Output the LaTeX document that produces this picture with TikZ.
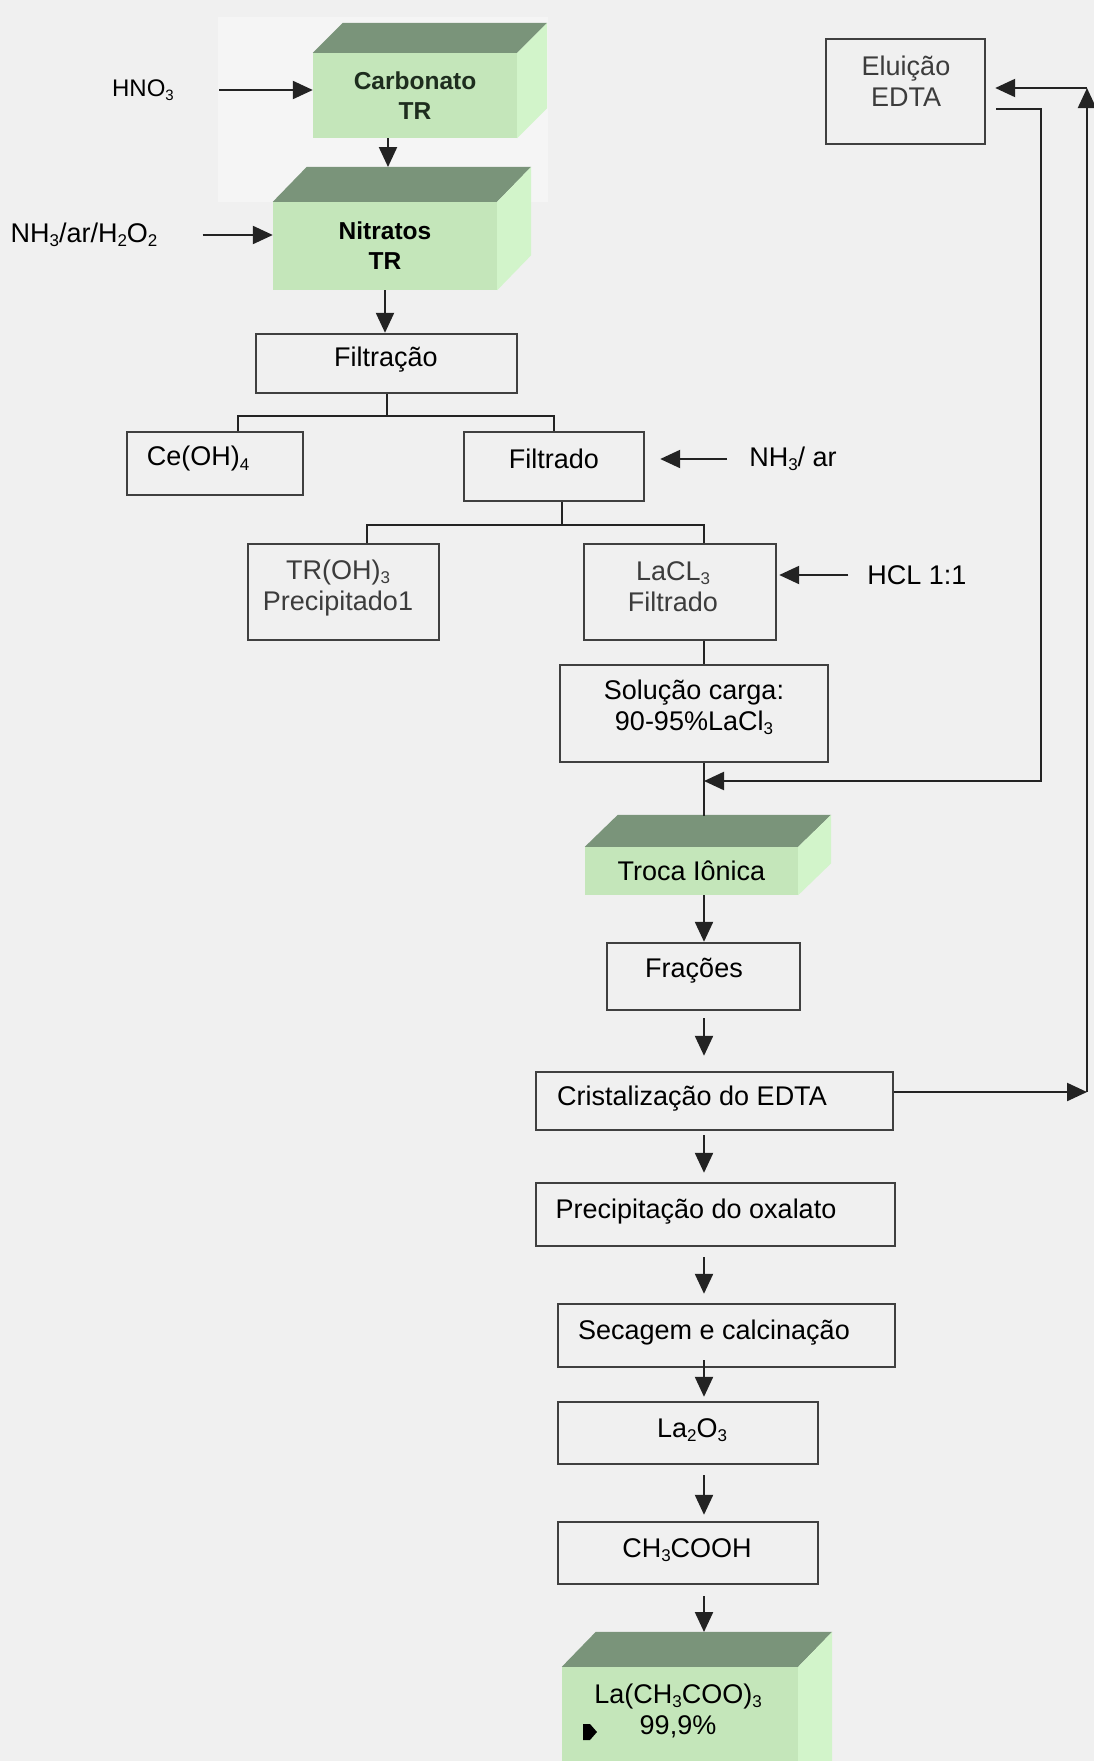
\documentclass[tikz,border=0pt]{standalone}
\usepackage{fontspec}
\setmainfont{Liberation Sans}
\usetikzlibrary{arrows.meta,calc}
\definecolor{bgc}{RGB}{240,240,240}
\definecolor{hilite}{RGB}{245,245,245}
\definecolor{frontc}{RGB}{196,230,186}
\definecolor{topc}{RGB}{122,148,122}
\definecolor{sidec}{RGB}{210,244,202}
\definecolor{linec}{RGB}{35,35,35}
\definecolor{boxc}{RGB}{64,64,64}
\definecolor{graytxt}{RGB}{60,60,60}
\definecolor{carbtxt}{RGB}{30,45,30}
\newcommand\fA{\fontsize{27}{31}\selectfont}
\newcommand\fB{\fontsize{24}{28}\selectfont}
\newcommand\fC{\fontsize{24.5}{30}\selectfont}
\newcommand\sbs[2][17]{\raisebox{-0.15em}{\fontsize{#1}{#1}\selectfont #2}}
\newcommand\cubefaces[3]{%
  \fill[topc] (#1.north west) -- ++(#2,-#3) -- ($(#1.north east)+(#2,-#3)$) -- (#1.north east) -- cycle;
  \fill[sidec] (#1.north east) -- ++(#2,-#3) -- ($(#1.south east)+(#2,-#3)$) -- (#1.south east) -- cycle;}
\begin{document}
\begin{tikzpicture}[x=1pt,y=-1pt,
  ln/.style={draw=linec, line width=2.2pt},
  arr/.style={ln, -{Triangle[length=20pt,width=18pt]}},
  box/.style={draw=boxc, line width=2.4pt, rectangle, inner sep=0pt},
  front/.style={fill=frontc, inner sep=0pt, rectangle, align=center, font=\fA},
  txt/.style={inner sep=0pt, align=center, font=\fA, text=black},
  gtxt/.style={txt, text=graytxt}]
% background
\fill[bgc] (0,0) rectangle (1094,1761);
\useasboundingbox (0,0) rectangle (1094,1761);
\fill[hilite] (218,17) rectangle (548,202);

% 3D blocks
\node[front, minimum width=204pt, minimum height=85pt, font=\fC\bfseries, text=carbtxt] (carb) at (415,95.5) {Carbonato\\TR};
\cubefaces{carb}{30}{30}
\node[front, minimum width=224pt, minimum height=88pt, font=\fC\bfseries] (nit) at (385,246) {Nitratos\\TR};
\cubefaces{nit}{34}{35}
\node[front, minimum width=213pt, minimum height=48pt] (troca) at (691.5,871) {Troca Iônica};
\cubefaces{troca}{33}{32}
\node[front, minimum width=236pt, minimum height=130pt] (la) at (680,1732) {};
\cubefaces{la}{34}{35}
\node[txt] (lat) at (678,1711) {La(CH\sbs{3}COO)\sbs{3}\\99,9\%};
\fill[black] (583,1724) -- (590,1724) -- (597,1732) -- (590,1740) -- (583,1740) -- cycle;

% boxes
\node[box, minimum width=159pt, minimum height=105pt] (elu) at (905.5,91.5) {};
\node[gtxt] (elut) at (906,81) {Eluição\\EDTA};
\node[box, minimum width=261pt, minimum height=59pt] (filt) at (386.5,363.5) {};
\node[txt] (filtt) at (386,360) {Filtração};
\node[box, minimum width=176pt, minimum height=63pt] (ce) at (215,463.5) {};
\node[txt] (cet) at (198,459) {Ce(OH)\sbs{4}};
\node[box, minimum width=180pt, minimum height=69pt] (fdo) at (554,466.5) {};
\node[txt] (fdot) at (554,459) {Filtrado};
\node[box, minimum width=191pt, minimum height=96pt] (tr) at (343.5,592) {};
\node[gtxt] (trt) at (338,588) {TR(OH)\sbs{3}\\Precipitado1};
\node[box, minimum width=192pt, minimum height=96pt] (lacl) at (680,592) {};
\node[gtxt] (laclt) at (673,587) {LaCL\sbs{3}\\Filtrado};
\node[box, minimum width=268pt, minimum height=97pt] (sol) at (694,713.5) {};
\node[txt] (solt) at (694,707) {Solução carga:\\90-95\%LaCl\sbs{3}};
\node[box, minimum width=193pt, minimum height=67pt] (frac) at (703.5,976.5) {};
\node[txt] (fract) at (694,971) {Frações};
\node[box, minimum width=357pt, minimum height=58pt] (crist) at (714.5,1101) {};
\node[txt] (cristt) at (692,1099) {Cristalização do EDTA};
\node[box, minimum width=359pt, minimum height=63pt] (prec) at (715.5,1214.5) {};
\node[txt] (prect) at (696,1212) {Precipitação do oxalato};
\node[box, minimum width=337pt, minimum height=63pt] (sec) at (726.5,1335.5) {};
\node[txt] (sect) at (714,1333) {Secagem e calcinação};
\node[box, minimum width=260pt, minimum height=62pt] (lao) at (688,1433) {};
\node[txt] (laot) at (692,1430) {La\sbs{2}O\sbs{3}};
\node[box, minimum width=260pt, minimum height=62pt] (ch) at (688,1553) {};
\node[txt] (cht) at (687,1550) {CH\sbs{3}COOH};

% side labels
\node[txt, font=\fB] (hno) at (143,90) {HNO\sbs[15]{3}};
\node[txt] (nh1) at (84,235) {NH\sbs{3}/ar/H\sbs{2}O\sbs{2}};
\node[txt] (nh2) at (793,459) {NH\sbs{3}/ ar};
\node[txt] (hcl) at (917,575) {HCL 1:1};

% coordinates
\coordinate (col) at (704,0);
\coordinate (nitback) at (388,167);
\coordinate (j1) at (387,416);
\coordinate (j2) at (562,525);
\coordinate (trocaback) at (704,816);
\coordinate (laback) at (704,1632);
\coordinate (c1) at (1087,1092);
\coordinate (c2) at (1087,88);
\coordinate (e1) at (1041,109);
\coordinate (e2) at (1041,781);
\coordinate (e3) at (704,781);

% connectors
\draw[arr, shorten <=45pt] (hno.east) -- (hno.east -| carb.west);
\draw[arr] (carb.south -| nitback) -- (nitback);
\draw[arr, shorten <=45pt] (nh1.east) -- (nh1.east -| nit.west);
\draw[arr] (nit.south) -- (nit.south |- filt.north);
\draw[ln] (filt.south -| j1) -- (j1);
\draw[ln] ([xshift=23pt]ce.north) |- (j1) -| (fdo.north);
\draw[ln] ([xshift=8pt]fdo.south) -- (j2);
\draw[ln] ([xshift=23.5pt]tr.north) |- (j2) -| ([xshift=24pt]lacl.north);
\draw[arr, shorten <=22pt, shorten >=15pt] (nh2.west) -- (nh2.west -| fdo.east);
\draw[arr, shorten <=19pt, shorten >=2pt] (hcl.west) -- (hcl.west -| lacl.east);
\draw[ln] (lacl.south -| col) -- (sol.north -| col);
\draw[ln] (sol.south -| col) -- (trocaback);
\draw[arr] ([xshift=10pt]elu.east |- e1) -- (e1) -- (e2) -- (e3);
\draw[arr] (troca.south -| col) -- (frac.north -| col);
\draw[arr, shorten <=7pt, shorten >=15pt] (frac.south -| col) -- (crist.north -| col);
\draw[arr, shorten <=4pt, shorten >=9pt] (crist.south -| col) -- (prec.north -| col);
\draw[arr, shorten <=10pt, shorten >=9pt] (prec.south -| col) -- (sec.north -| col);
\draw[arr, shorten <=-8pt, shorten >=4pt] (sec.south -| col) -- (lao.north -| col);
\draw[arr, shorten <=10pt, shorten >=6pt] (lao.south -| col) -- (ch.north -| col);
\draw[arr, shorten <=11pt] (ch.south -| col) -- (laback);
\draw[arr] (crist.east |- c1) -- (c1);
\draw[arr] (c1) -- (c2);
\draw[arr, shorten >=9pt] (c2) -- (elu.east |- c2);
\end{tikzpicture}
\end{document}
